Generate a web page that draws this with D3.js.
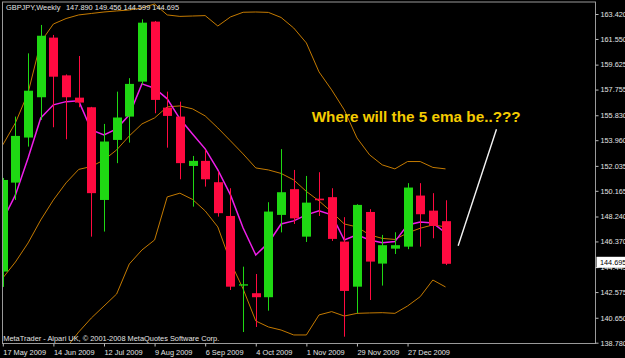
<!DOCTYPE html>
<html>
<head>
<meta charset="utf-8">
<style>
  body { margin: 0; background: #000; }
  svg { display: block; }
  text { font-family: "Liberation Sans", Arial, sans-serif; }
</style>
<script src="https://cdnjs.cloudflare.com/ajax/libs/d3/7.8.5/d3.min.js"></script>
</head>
<body>
<svg id="chart" width="625" height="358"></svg>
<script>
// weekly GBPJPY candles, first bar = week of 17 May 2009
var symbol = "GBPJPY,Weekly";
var firstWeek = new Date(Date.UTC(2009, 4, 17));

var opens  = [144.11,150.78,154.16,157.18,161.65,158.82,157.15,156.43,149.48,153.98,155.73,158.35,162.85,156.40,155.73,152.03,152.41,150.81,148.28,143.06,142.49,142.19,148.36,150.29,146.73,149.58,149.69,146.36,142.98,148.58,144.71,145.83,145.98,149.81,148.68,147.890];
var highs  = [151.13,155.73,160.47,162.60,161.85,158.89,160.27,156.46,155.18,157.60,158.61,163.02,162.90,157.60,156.85,152.78,153.23,151.61,150.36,144.48,143.93,149.31,153.29,151.73,151.28,151.56,150.36,148.19,149.16,148.79,146.86,147.06,150.74,150.74,149.99,149.456];
var lows   = [142.96,149.48,153.48,155.48,154.93,154.03,156.43,146.73,147.11,152.24,153.78,158.11,155.98,153.40,151.03,148.98,150.48,148.23,142.73,139.58,139.96,141.18,147.05,147.68,146.33,148.28,146.41,139.23,140.99,141.98,143.06,145.43,145.79,145.98,146.61,144.599];
var closes = [150.98,154.28,157.67,161.79,158.72,157.18,156.78,149.99,153.86,155.66,158.18,162.77,156.98,155.78,152.24,152.41,151.03,148.49,142.98,143.16,142.19,148.61,150.06,148.10,149.28,149.46,146.56,142.66,149.11,144.86,146.09,146.09,150.41,148.41,147.53,144.695];

var ema5 = [147.98,149.86,152.63,155.63,156.61,156.85,156.91,154.73,154.36,154.81,155.86,158.18,157.86,157.06,155.56,154.43,153.31,151.73,149.86,147.38,145.36,146.26,147.68,147.91,148.36,148.66,148.36,146.48,146.86,146.48,146.28,146.36,147.61,147.83,147.76,147.01];

var bbUpper  = [153.61,155.26,157.51,161.32,162.67,163.08,163.35,163.46,163.57,163.65,163.72,163.87,164.17,163.35,163.24,163.27,163.30,162.52,163.20,163.55,163.57,163.54,163.16,162.37,161.25,159.08,157.73,156.23,154.13,152.86,152.11,151.81,152.36,152.36,151.92,151.81];
var bbMiddle = [143.63,144.83,146.26,147.98,149.48,150.76,151.77,151.99,152.48,153.23,154.28,155.18,155.63,156.46,156.53,156.31,155.78,154.88,153.91,152.93,151.88,151.73,151.47,150.98,150.12,149.41,148.58,147.68,147.46,146.86,146.60,146.52,147.01,147.36,147.61,147.46];
var bbLower  = [null,null,null,null,null,138.38,139.58,140.63,141.53,142.43,144.68,145.73,146.48,149.71,149.99,149.52,148.66,147.46,144.83,142.81,140.41,139.96,139.73,139.36,139.36,140.86,141.11,140.78,140.98,141.01,141.03,140.98,141.53,142.23,143.48,142.96];

var priceTicks = [163.420,161.550,159.625,157.755,155.830,153.960,152.035,150.165,148.240,146.370,144.445,142.575,140.650,138.780];
var dateTickWeeks = [0,4,8,12,16,20,24,28,32];

var note = "Where will the 5 ema be..???";
var noteLine = [{week: 36.0, price: 146.05}, {week: 39.03, price: 154.78}];
var copyright = "MetaTrader - Alpari UK, \u00a9 2001-2008 MetaQuotes Software Corp.";

var svg = d3.select("#chart");
var W = 625, H = 358;
var plotL = 2, plotT = 1.5, plotR = 595, plotB = 343;

svg.append("rect").attr("width", W).attr("height", H).attr("fill", "#000");

function weekDate(i) {
  return new Date(firstWeek.getTime() + i * 7 * 86400000);
}

var x = d3.scaleUtc()
  .domain([weekDate(0), weekDate(35)])
  .range([2.8, 445.5]);
var y = d3.scaleLinear()
  .domain([138.78, 163.42])
  .range([342.7, 14]);

var bars = opens.map(function(o, i) {
  return {date: weekDate(i), o: o, h: highs[i], l: lows[i], c: closes[i]};
});

svg.append("clipPath").attr("id", "plotclip")
  .append("rect").attr("x", plotL + 0.5).attr("y", plotT + 0.5)
  .attr("width", plotR - plotL - 0.5).attr("height", plotB - plotT - 0.5);

var plot = svg.append("g").attr("clip-path", "url(#plotclip)");

// bollinger bands + ema behind the candles
function seriesLine(vals) {
  return d3.line()
    .defined(function(d) { return d != null; })
    .x(function(d, i) { return x(weekDate(i)); })
    .y(function(d) { return y(d); })(vals);
}

[bbUpper, bbMiddle, bbLower].forEach(function(s) {
  plot.append("path").attr("d", seriesLine(s))
    .attr("fill", "none").attr("stroke", "#c47a00").attr("stroke-width", 1);
});
plot.append("path").attr("d", seriesLine(ema5))
  .attr("fill", "none").attr("stroke", "#ee1ee8").attr("stroke-width", 1.5);

var bull = "#1fd813", bear = "#ff0a40";
var cw = 9;

var candle = plot.selectAll(".candle").data(bars).enter().append("g").attr("class", "candle");
candle.append("line")
  .attr("x1", function(d) { return Math.round(x(d.date)) + 0.5; })
  .attr("x2", function(d) { return Math.round(x(d.date)) + 0.5; })
  .attr("y1", function(d) { return y(d.h); })
  .attr("y2", function(d) { return y(d.l); })
  .attr("stroke", function(d) { return d.c >= d.o ? bull : bear; })
  .attr("stroke-width", 1);
candle.append("rect")
  .attr("x", function(d) { return Math.round(x(d.date)) + 0.5 - cw / 2; })
  .attr("width", cw)
  .attr("y", function(d) { return y(Math.max(d.o, d.c)); })
  .attr("height", function(d) { return Math.max(1, Math.abs(y(d.o) - y(d.c))); })
  .attr("fill", function(d) { return d.c >= d.o ? bull : bear; });

// frame
svg.append("rect")
  .attr("x", plotL + 0.5).attr("y", plotT + 0.5)
  .attr("width", plotR - plotL).attr("height", plotB - plotT)
  .attr("fill", "none").attr("stroke", "#9a9a9a").attr("stroke-width", 1);

// price axis
var yAxis = svg.append("g")
  .attr("transform", "translate(" + (plotR + 0.5) + ",0)")
  .call(d3.axisRight(y).tickValues(priceTicks).tickFormat(d3.format(".3f")).tickSize(3).tickPadding(2));
yAxis.select(".domain").remove();
yAxis.selectAll("line").attr("stroke", "#bbbbbb");
yAxis.selectAll("text").attr("fill", "#e4e4e4").attr("font-size", "7.3px")
  .attr("font-family", "Liberation Sans, Arial, sans-serif");

// current price box
var last = closes[closes.length - 1];
var ly = y(last) - 1.5;
svg.append("rect").attr("x", plotR + 1.5).attr("y", ly - 5.5)
  .attr("width", W - plotR).attr("height", 11).attr("fill", "#ffffff");
svg.append("text").attr("x", plotR + 5).attr("y", ly + 2.7)
  .attr("font-size", "7.3px").attr("fill", "#000").text(d3.format(".3f")(last));

// date axis
var xAxis = svg.append("g")
  .attr("transform", "translate(0," + (plotB + 0.5) + ")")
  .call(d3.axisBottom(x).tickValues(dateTickWeeks.map(weekDate))
    .tickFormat(d3.utcFormat("%-d %b %Y")).tickSize(3).tickPadding(3));
xAxis.select(".domain").remove();
xAxis.selectAll("line").attr("stroke", "#bbbbbb");
xAxis.selectAll("text").attr("fill", "#e4e4e4").attr("font-size", "7.4px")
  .attr("font-family", "Liberation Sans, Arial, sans-serif")
  .attr("text-anchor", "start");

// header + footer
svg.append("text").attr("x", 6).attr("y", 10.3).attr("font-size", "7.4px")
  .attr("fill", "#e4e4e4").text(symbol);
svg.append("text").attr("x", 66).attr("y", 10.3).attr("font-size", "7.4px")
  .attr("fill", "#e4e4e4")
  .text([opens[35], highs[35], lows[35], closes[35]].map(d3.format(".3f")).join(" "));
svg.append("text").attr("x", 3.3).attr("y", 340.5).attr("font-size", "7.4px")
  .attr("fill", "#e4e4e4").text(copyright);

// annotation
svg.append("line")
  .attr("x1", x(weekDate(noteLine[0].week))).attr("y1", y(noteLine[0].price))
  .attr("x2", x(weekDate(noteLine[1].week))).attr("y2", y(noteLine[1].price))
  .attr("stroke", "#f4f4f4").attr("stroke-width", 1.4);
svg.append("text").attr("x", 311.7).attr("y", 121.7)
  .attr("font-family", "DejaVu Sans, sans-serif").attr("font-weight", "bold")
  .attr("font-size", "14px").attr("textLength", 209).attr("lengthAdjust", "spacingAndGlyphs")
  .attr("fill", "#f5cc00").text(note);
</script>
</body>
</html>
